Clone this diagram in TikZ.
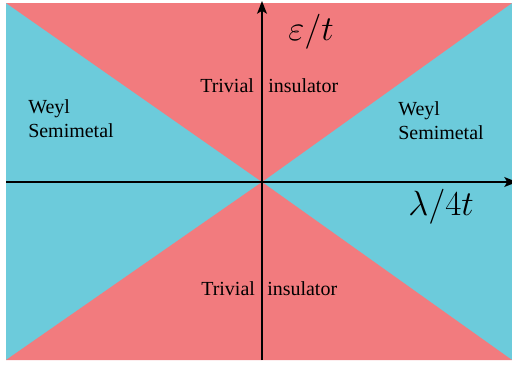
\documentclass[tikz,border=0pt]{standalone}
\usepackage[no-math]{fontspec}
\setmainfont{Liberation Serif}
\newfontfamily\phasefont{Liberation Serif}
\usetikzlibrary{arrows.meta,positioning}
\definecolor{PhaseRed}{RGB}{242,123,126}
\definecolor{PhaseBlue}{RGB}{108,203,219}

\begin{document}
\begin{tikzpicture}[
    x=0.025cm, y=-0.025cm,
    phase/.style={font=\phasefont\fontsize{14.2}{17.5}\selectfont, inner sep=0pt, align=left},
    axlabel/.style={font=\fontsize{24.88}{28}\selectfont, inner sep=0pt},
    axis/.style={-{Stealth[length=9pt,width=7pt,inset=2pt]}, line width=1pt}
  ]
    \useasboundingbox (0,0) rectangle (512,364);
    \coordinate (nw) at (6,3);
    \coordinate (ne) at (512,3);
    \coordinate (sw) at (6,360);
    \coordinate (se) at (512,360);
    \coordinate (o) at (262,182);

    % phase regions
    \fill[PhaseBlue] (nw) rectangle (se);
    \fill[PhaseRed] (nw) -- (ne) -- (o) -- cycle;
    \fill[PhaseRed] (sw) -- (se) -- (o) -- cycle;

    % axes
    \coordinate (xl) at (6,182);
    \coordinate (xr) at (517,182);
    \coordinate (yb) at (262,360);
    \coordinate (yt) at (262,1);
    \draw[axis] (xl) -- (xr);
    \draw[axis] (yb) -- (yt);

    \node[axlabel, anchor=base west] (eps) at (288,40) {$\varepsilon/t$};
    \node[axlabel, anchor=base west] (lam) at (408,215) {$\lambda/4t$};

    % labels
    \node[phase, anchor=base west] (triv1) at (200,92) {Trivial};
    \node[phase, anchor=base west] (ins1) at (268,92) {insulator};
    \node[phase, anchor=base west] (triv2) at (201,295) {Trivial};
    \node[phase, anchor=base west] (ins2) at (267,295) {insulator};
    \node[phase, anchor=north west] (weylL) at (28,99) {Weyl\\Semimetal};
    \node[phase, anchor=north west] (weylR) at (398,101) {Weyl\\Semimetal};
  \end{tikzpicture}
\end{document}
